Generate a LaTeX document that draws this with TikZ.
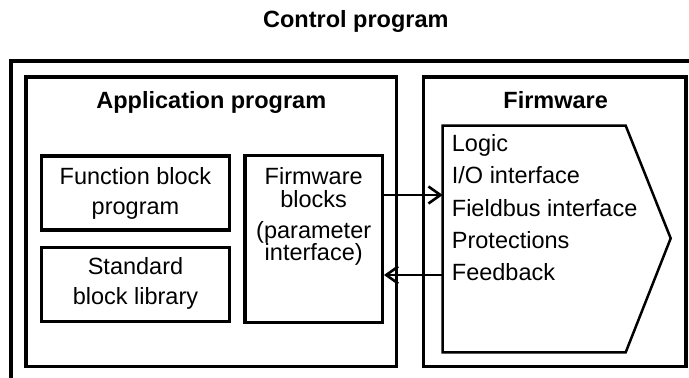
\documentclass[tikz,border=0pt]{standalone}
\usepackage{fontspec}
\setmainfont{Liberation Sans}
\usetikzlibrary{arrows.meta}
\begin{document}
\begin{tikzpicture}[x=1pt,y=-1pt,
  box/.style={draw,line width=3.2pt,rectangle,inner sep=0pt},
  txt/.style={inner sep=0pt,font=\fontsize{23.5}{30}\selectfont},
  bold/.style={inner sep=0pt,font=\fontsize{23.5}{28}\selectfont\bfseries},
  conn/.style={line width=2.6pt,-{Straight Barb[length=12pt,width=17pt,line width=2.6pt]}}]
\useasboundingbox (0,0) rectangle (689,378);
% outer frame (cut by the page edges)
\coordinate (fr1) at (689,61);
\coordinate (fr2) at (11,61);
\coordinate (fr3) at (11,378);
\draw[line width=3.2pt] (fr1) -- (fr2) -- (fr3);
\node[bold,anchor=base] (title) at (355.8,27.3) {Control program};
% boxes
\node[box,minimum width=370.7pt,minimum height=289.7pt] (app) at (211.3,221.9) {};
\node[box,minimum width=262.7pt,minimum height=289.7pt] (fw) at (554.7,221.9) {};
\node[box,minimum width=188pt,minimum height=74pt] (fbp) at (135.5,193) {};
\node[box,minimum width=188pt,minimum height=74.4pt] (sbl) at (135.5,284.5) {};
\node[box,minimum width=137.3pt,minimum height=167pt] (fwb) at (313.7,239.2) {};
\node[bold,anchor=base] (apptitle) at (211.3,108.3) {Application program};
\node[bold,anchor=base] (fwtitle) at (555.7,108.3) {Firmware};
\node[txt,align=center,anchor=base] (fbptxt) at (135.5,214) {Function block\\program};
\node[txt,align=center,anchor=base] (sbltxt) at (135.5,304) {Standard\\block library};
\node[txt,align=center,anchor=base] (fwbtxt) at (313.7,260.5) {Firmware\\[-7pt]blocks\\[1pt](parameter\\[-8pt]interface)};
% pentagon
\coordinate (p1) at (442.7,125.7);
\coordinate (p2) at (625.7,125.7);
\coordinate (p3) at (670.7,238.3);
\coordinate (p4) at (625.7,352.3);
\coordinate (p5) at (442.7,352.3);
\draw[line width=2.5pt,line join=miter] (p1) -- (p2) -- (p3) -- (p4) -- (p5) -- cycle;
\node[txt,align=left,anchor=base west,font=\fontsize{23.5}{32.25}\selectfont] (list) at (451.7,280.7)
  {Logic\\I/O interface\\Fieldbus interface\\Protections\\Feedback};
% connectors
\coordinate (pin) at (442.7,195);
\coordinate (pout) at (442.7,275);
\draw[conn] (fwb.east |- pin) -- (pin);
\draw[conn] (pout) -- (fwb.east |- pout);
\end{tikzpicture}
\end{document}
